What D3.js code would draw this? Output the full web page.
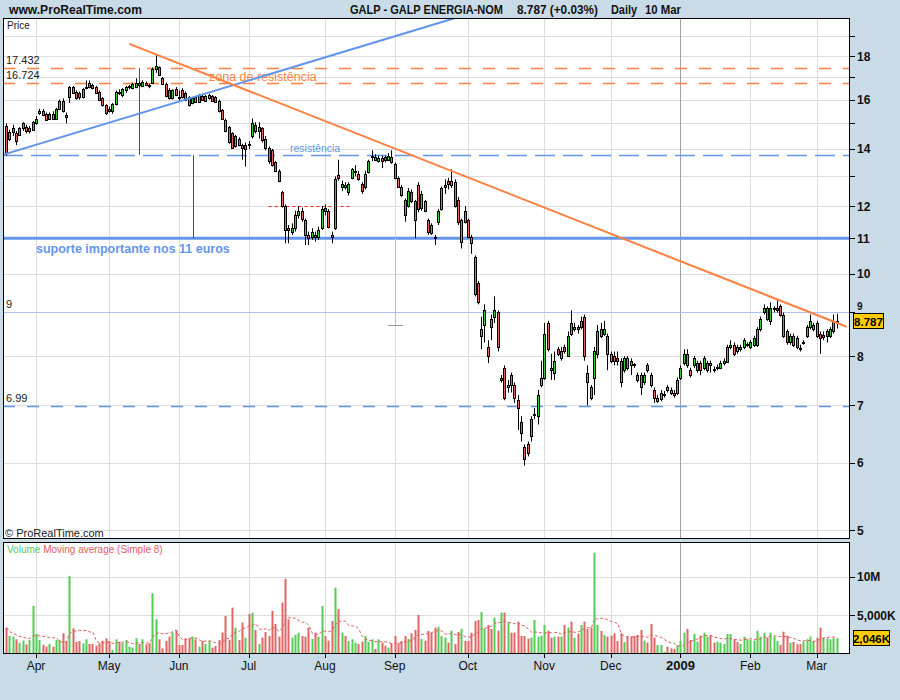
<!DOCTYPE html>
<html><head><meta charset="utf-8">
<script src="https://cdn.jsdelivr.net/npm/d3@7"></script>
<style>
body{margin:0;background:#c9dbe6;}
svg{display:block;font-family:"Liberation Sans",Arial,sans-serif;}
</style></head><body>
<svg id="chart" width="900" height="700"></svg>
<script>
// ---- DATA ----
const opens=[14.9,14.4,14.65,14.6,14.55,14.8,14.85,14.7,14.75,15.0,
15.45,15.5,15.4,15.2,15.4,15.2,15.6,15.95,15.35,16.1,
16.55,16.35,16.3,16.1,16.5,16.75,16.65,16.55,16.35,16.05,
15.75,15.6,15.5,15.8,16.35,16.2,16.4,16.55,16.5,16.55,
16.75,16.6,16.75,16.65,16.75,17.4,17.45,16.95,16.7,16.4,
16.05,16.45,16.1,16.4,16.3,16.1,15.85,16.1,15.9,16.15,
15.95,16.05,16.15,16.1,15.95,15.55,15.15,14.85,14.6,14.1,
14.4,14.15,14.0,14.2,14.5,14.95,14.7,14.8,14.4,14.05,
13.95,13.5,13.2,12.45,12.0,11.3,11.2,11.3,11.7,11.85,
11.55,11.1,11.05,11.1,11.05,11.3,11.95,11.85,11.1,11.3,
13.05,12.65,12.7,12.45,12.95,13.15,13.1,12.75,12.65,13.15,
13.7,13.7,13.55,13.65,13.7,13.6,13.7,13.45,12.95,12.65,
12.2,12.0,12.45,12.15,12.7,11.95,12.15,11.55,11.4,11.05,
11.5,11.9,12.65,12.85,12.7,12.8,12.2,10.9,11.85,11.55,
11.05,10.45,9.75,8.45,8.7,8.2,8.85,8.9,9.0,7.5,
7.75,7.35,7.6,7.4,7.1,6.7,6.25,6.3,6.45,6.85,
6.8,7.4,7.55,8.75,7.75,7.65,8.15,7.95,8.2,8.0,
8.75,8.6,8.65,8.65,8.9,7.65,7.35,7.55,8.05,8.6,
8.5,8.45,8.05,8.0,7.95,7.9,7.7,7.95,7.9,7.82,
7.6,7.6,7.45,7.8,7.6,7.3,7.08,7.12,7.2,7.35,
7.3,7.25,7.25,7.55,7.85,8.05,7.7,7.8,7.7,7.85,
7.75,7.7,7.85,7.73,7.76,7.75,7.85,7.88,8.2,8.25,
8.2,8.15,8.2,8.25,8.2,8.25,8.25,8.6,9.0,9.1,
8.8,9.08,9.05,9.15,8.95,8.55,8.3,8.45,8.4,8.17,
8.3,8.45,8.65,8.6,8.75,8.5,8.42,8.45,8.45,8.55,
8.78];
const highs=[15.0,14.75,14.95,14.7,14.85,15.05,14.95,14.9,15.1,15.3,
15.6,15.6,15.45,15.45,15.5,15.65,16.0,16.05,15.45,16.6,
16.6,16.4,16.35,16.5,16.85,16.85,16.7,16.6,16.4,16.1,
15.8,15.7,15.85,16.4,16.45,16.5,16.6,16.65,16.75,16.95,
16.8,16.85,16.8,16.7,17.45,18.05,17.5,17.0,16.75,16.5,
16.45,16.55,16.4,16.5,16.35,16.15,16.1,16.15,16.25,16.25,
16.2,16.25,16.2,16.15,16.0,15.6,15.2,14.9,14.65,14.55,
14.45,14.2,14.25,14.3,15.2,15.05,15.05,14.85,14.5,14.1,
14.0,13.55,13.25,12.5,12.05,11.4,11.45,11.85,12.0,11.95,
11.6,11.2,11.3,11.2,11.35,12.0,12.05,11.9,11.2,13.0,
13.6,12.85,12.8,12.8,13.3,13.4,13.2,12.8,13.2,13.6,
13.95,13.8,13.75,13.75,13.75,13.85,13.95,13.5,13.0,12.7,
12.25,12.6,12.55,12.2,12.8,12.5,12.2,11.6,11.45,11.1,
11.9,12.65,12.9,12.95,13.25,12.9,12.3,11.6,12.0,11.6,
11.1,10.5,9.8,8.9,9.2,8.35,8.95,9.4,9.05,7.6,
7.8,7.5,7.65,7.45,7.2,6.8,6.3,6.35,6.8,6.95,
7.3,7.9,8.75,8.8,8.05,8.1,8.2,8.2,8.25,8.55,
9.05,8.75,8.7,8.9,8.95,7.8,7.4,8.2,8.7,8.75,
8.8,8.5,8.1,8.1,8.1,7.95,8.0,8.0,7.95,7.85,
7.65,7.65,7.65,7.85,7.65,7.35,7.2,7.3,7.28,7.4,
7.35,7.3,7.55,7.8,8.15,8.15,7.75,8.0,7.9,7.9,
8.0,7.9,7.9,7.78,7.82,7.9,7.95,8.25,8.35,8.3,
8.25,8.25,8.4,8.3,8.35,8.45,8.65,8.9,9.2,9.15,
9.25,9.15,9.3,9.2,9.0,8.6,8.5,8.5,8.45,8.25,
8.35,8.7,8.95,8.75,8.8,8.55,8.55,8.6,8.65,8.95,
8.97];
const lows=[13.75,14.3,14.5,14.15,14.5,14.7,14.6,14.6,14.7,14.95,
15.35,15.3,15.1,15.15,15.15,15.15,15.55,15.45,15.0,15.85,
16.25,16.0,16.0,16.05,16.45,16.5,16.45,16.25,15.95,15.7,
15.35,15.45,15.4,15.75,16.2,16.1,16.3,16.45,16.45,16.5,
16.55,16.55,16.6,16.5,16.7,17.2,17.05,16.65,16.1,16.0,
16.0,16.15,15.9,16.05,15.95,15.7,15.8,15.85,15.85,15.95,
15.9,16.0,15.9,15.85,15.45,15.15,14.65,14.2,14.0,14.05,
14.1,13.6,13.35,14.0,14.4,14.6,14.4,14.25,13.95,13.45,
13.35,13.15,12.8,11.95,10.85,10.85,11.1,11.2,11.6,11.5,
10.8,10.8,10.95,10.9,10.95,11.25,11.7,11.3,10.85,11.25,
12.85,12.5,12.55,12.35,12.9,13.0,12.85,12.4,12.55,13.1,
13.55,13.55,13.5,13.3,13.5,13.55,13.45,12.9,12.6,12.3,
11.5,11.95,12.1,11.0,11.8,11.85,11.8,11.1,11.1,10.8,
11.4,11.85,12.4,12.55,12.6,11.95,11.4,10.7,11.45,11.0,
10.55,9.4,9.2,8.15,8.3,7.85,8.35,8.75,8.1,7.45,
7.1,7.25,7.25,7.05,6.55,6.35,5.95,6.1,6.35,6.75,
6.65,7.35,7.5,8.1,7.5,7.5,8.0,7.9,8.05,7.98,
8.45,8.55,8.5,8.6,7.9,7.0,7.1,7.2,7.95,8.4,
8.45,7.7,7.85,7.8,7.8,7.35,7.65,7.7,7.6,7.75,
7.45,7.2,7.4,7.65,7.35,7.05,7.05,7.08,7.15,7.25,
7.2,7.15,7.2,7.5,7.8,7.75,7.55,7.75,7.65,7.6,
7.7,7.65,7.65,7.65,7.7,7.72,7.8,7.85,8.15,8.0,
8.05,8.1,8.15,8.2,8.15,8.2,8.2,8.55,8.95,8.8,
8.7,9.0,9.0,8.9,8.4,8.25,8.25,8.2,8.15,8.1,
8.25,8.4,8.6,8.55,8.4,8.05,8.35,8.3,8.4,8.5,
8.62];
const closes=[13.85,14.65,14.8,14.3,14.8,15.0,14.7,14.8,15.05,15.2,
15.5,15.35,15.15,15.4,15.2,15.6,15.95,15.5,15.25,16.55,
16.3,16.05,16.1,16.45,16.55,16.55,16.5,16.3,16.0,15.75,
15.45,15.5,15.8,16.35,16.3,16.45,16.55,16.6,16.7,16.75,
16.65,16.8,16.65,16.6,17.4,17.5,17.1,16.7,16.15,16.05,
16.4,16.2,16.05,16.1,16.0,15.75,16.05,15.9,16.2,16.0,
16.15,16.2,15.95,15.9,15.5,15.2,14.7,14.25,14.05,14.5,
14.15,14.05,14.15,14.15,15.0,14.7,14.85,14.35,14.05,13.55,
13.4,13.2,12.85,12.0,11.25,11.25,11.3,11.7,11.85,11.6,
11.1,11.0,11.2,11.05,11.25,11.9,11.85,11.35,11.05,12.9,
12.95,12.75,12.65,12.75,13.25,13.2,12.9,12.5,13.1,13.55,
13.75,13.6,13.65,13.55,13.6,13.72,13.5,12.95,12.65,12.35,
11.7,12.5,12.15,11.55,11.9,12.4,11.85,11.2,11.15,11.0,
11.85,12.6,12.7,12.75,12.85,12.0,11.5,11.55,11.5,11.05,
10.85,9.45,9.25,8.6,9.05,8.0,8.65,9.05,8.2,7.55,
7.15,7.4,7.4,7.15,6.95,6.5,6.05,6.15,6.75,6.85,
7.2,7.55,8.5,8.15,7.7,7.9,8.05,8.1,8.1,8.45,
8.5,8.65,8.6,8.8,8.0,7.45,7.15,8.1,8.55,8.45,
8.6,8.05,7.9,7.9,7.9,7.45,7.95,7.75,7.8,7.8,
7.5,7.35,7.6,7.7,7.4,7.15,7.15,7.25,7.22,7.3,
7.25,7.2,7.5,7.75,8.05,7.8,7.6,7.95,7.85,7.7,
7.95,7.85,7.8,7.72,7.77,7.85,7.9,8.2,8.25,8.05,
8.1,8.2,8.35,8.26,8.3,8.4,8.6,8.85,9.1,8.85,
9.1,9.1,9.1,8.95,8.45,8.3,8.45,8.25,8.2,8.15,
8.32,8.65,8.8,8.7,8.45,8.4,8.48,8.55,8.6,8.784,
8.787];
// volume in millions of shares
const volumes=[3.41,2.33,2.25,1.9,1.47,1.73,1.25,1.81,6.22,2.59,
1.81,1.17,0.95,1.3,0.95,1.81,1.81,2.68,1.68,10.1,
3.32,1.55,1.68,1.38,1.9,1.3,1.3,1.08,1.38,1.68,
2.03,1.68,0.52,1.9,1.6,1.38,1.81,0.95,0.82,2.03,
1.3,1.9,1.25,1.38,7.86,4.49,1.9,0.73,1.68,2.25,
2.76,3.11,1.17,1.17,2.03,2.03,2.25,1.9,0.95,1.68,
1.3,1.68,0.82,1.04,1.81,2.76,4.92,1.81,6.0,3.41,
1.81,4.06,2.12,5.18,5.35,3.11,1.3,2.12,2.85,2.33,
5.57,3.89,2.25,6.65,9.72,4.49,2.12,2.46,2.76,2.33,
2.25,3.41,1.94,2.76,2.25,6.22,2.33,1.73,4.27,8.59,
5.83,2.76,2.33,1.68,1.9,1.47,1.3,1.6,2.33,1.6,
1.9,0.65,1.9,1.47,1.08,0.82,1.38,2.33,1.38,1.68,
2.33,1.94,2.68,3.11,5.05,1.94,1.73,2.98,2.76,3.41,
3.54,2.33,2.12,1.47,3.02,1.3,2.85,3.24,1.68,1.68,
2.76,4.27,4.4,5.44,3.32,3.76,3.24,4.7,3.02,5.35,
5.35,4.1,2.76,2.76,4.19,2.33,2.33,1.99,2.12,4.4,
2.25,2.37,3.76,3.02,2.12,2.25,2.25,2.25,3.76,3.41,
4.19,2.12,2.63,3.76,4.19,3.24,3.41,13.1,3.76,2.98,
2.46,2.25,2.37,2.68,1.68,2.68,1.55,2.25,2.25,2.33,
2.46,3.11,1.73,1.47,3.89,2.12,1.17,1.17,0.3,0.95,
0.73,0.65,1.17,1.68,2.76,3.24,1.81,2.59,1.6,2.37,
2.76,2.25,2.46,1.47,1.6,1.47,1.3,2.59,2.59,1.9,
1.55,1.3,2.25,1.9,1.81,1.73,2.98,2.25,2.76,2.12,
2.76,2.25,1.68,1.17,2.89,2.37,1.47,1.55,1.25,1.3,
1.6,1.9,2.25,1.68,2.12,3.41,2.12,2.03,1.9,2.05,
2.046];
const monthLabels=["Apr","May","Jun","Jul","Aug","Sep","Oct","Nov","Dec","2009","Feb","Mar"];
const monthStarts=[9,31,52,73,96,117,139,162,182,203,224,244];
const priceLabels=[18,16,14,12,11,10,9,8,7,6,5];
const priceMinor=[19,17,15,13];
const priceGrid=[5,6,7,8,9,10,11,12,13,14,15,16,17,18,19];
const volTicks=[5,10];
const volTickLabels=["5,000K","10M"];
const resistZone=[17.432,16.724];
const resistLevel=13.78, supportLevel=11, lowLevel=6.99, nineLevel=9, redLevel=12;
const blueTrend=[[-1,13.78],[135.2,19.95]];
const orangeTrend=[[37.1,18.6],[253,8.66]];
const measureLines=[[40,17.432,13.78],[56.3,13.78,11]];
const lastPrice=8.787, lastVol=2.046;

// ---- LAYOUT ----
const svg=d3.select('#chart');
const W=900,H=700,L=3,R=850,PT=18,PB=539,VT=542,VB=654;
const x=d3.scaleLinear().domain([9,244]).range([36,816.7]);
const y=d3.scaleLog().domain([5,18]).range([530,56]);
const yv=d3.scaleLinear().domain([0,10]).range([VB,576.7]);
const n=closes.length, idx=d3.range(n);
const GREEN='#33cc33', RED='#e46464', BLUE='#6495ed', ORANGE='#ff7f3f';
const px=v=>Math.round(v)+0.5;

svg.append('rect').attr('width',W).attr('height',H).attr('fill','#c9dbe6');
const defs=svg.append('defs');
defs.append('clipPath').attr('id','cp').append('rect').attr('x',L).attr('y',PT).attr('width',R-L).attr('height',PB-PT);
defs.append('clipPath').attr('id','cv').append('rect').attr('x',L).attr('y',VT).attr('width',R-L).attr('height',VB-VT);

svg.append('rect').attr('x',L).attr('y',PT).attr('width',R-L).attr('height',PB-PT).attr('fill','#fff');
svg.append('rect').attr('x',L).attr('y',VT).attr('width',R-L).attr('height',VB-VT).attr('fill','#fff');

// gridlines
const gp=svg.append('g').attr('clip-path','url(#cp)');
gp.selectAll('line.h').data(priceGrid).join('line')
 .attr('x1',L).attr('x2',R).attr('y1',d=>px(y(d))).attr('y2',d=>px(y(d))).attr('stroke','#dcdcdc');
const gv=svg.append('g').attr('clip-path','url(#cv)');
gv.selectAll('line').data(volTicks).join('line')
 .attr('x1',L).attr('x2',R).attr('y1',d=>px(yv(d))).attr('y2',d=>px(yv(d))).attr('stroke','#dcdcdc');
[[PT,PB],[VT,VB]].forEach(([a,b])=>{
 svg.append('g').selectAll('line').data(monthStarts).join('line')
  .attr('x1',d=>px(x(d))).attr('x2',d=>px(x(d))).attr('y1',a).attr('y2',b)
  .attr('stroke',(d,i)=>monthLabels[i]==='2009'?'#a0a0a0':'#dcdcdc');
});

// annotations (behind candles)
const an=svg.append('g').attr('clip-path','url(#cp)');
an.append('text').attr('x',209).attr('y',81).attr('fill',ORANGE).attr('font-size',12.5).text('zona de resistência');
an.selectAll('line.rz').data(resistZone).join('line')
 .attr('x1',L).attr('x2',R).attr('y1',d=>px(y(d))).attr('y2',d=>px(y(d)))
 .attr('stroke',ORANGE).attr('stroke-width',1.3).attr('stroke-dasharray','12,12');
an.append('line').attr('x1',L).attr('x2',R).attr('y1',px(y(resistLevel))).attr('y2',px(y(resistLevel)))
 .attr('stroke',BLUE).attr('stroke-width',1.3).attr('stroke-dasharray','20,8');
an.append('line').attr('x1',L).attr('x2',R).attr('y1',px(y(nineLevel))).attr('y2',px(y(nineLevel)))
 .attr('stroke','#aec2f0');
an.append('line').attr('x1',L).attr('x2',R).attr('y1',px(y(lowLevel))).attr('y2',px(y(lowLevel)))
 .attr('stroke',BLUE).attr('stroke-width',1.3).attr('stroke-dasharray','12,12');
an.append('line').attr('x1',L).attr('x2',R).attr('y1',y(supportLevel)).attr('y2',y(supportLevel))
 .attr('stroke',BLUE).attr('stroke-width',3);
an.append('line').attr('x1',x(79)).attr('x2',x(103.5)).attr('y1',px(y(redLevel))).attr('y2',px(y(redLevel)))
 .attr('stroke','#ff2020').attr('stroke-dasharray','3,3');
an.selectAll('line.ml').data(measureLines).join('line')
 .attr('x1',d=>px(x(d[0]))).attr('x2',d=>px(x(d[0]))).attr('y1',d=>y(d[1])).attr('y2',d=>y(d[2]))
 .attr('stroke','#3347c8');
an.append('line').attr('x1',px(x(117.1))).attr('x2',px(x(117.1))).attr('y1',y(supportLevel)).attr('y2',y(8.7)).attr('stroke','#aec2f0');
an.append('line').attr('x1',x(115)).attr('x2',x(119.5)).attr('y1',px(y(8.7))).attr('y2',px(y(8.7))).attr('stroke','#999');
an.append('text').attr('x',290).attr('y',152).attr('fill',BLUE).attr('font-size',10.5).text('resistência');
an.append('text').attr('x',36).attr('y',253).attr('fill',BLUE).attr('font-size',12.5).attr('font-weight','bold').text('suporte importante nos 11 euros');
const leftLab=[[17.432,'17.432'],[16.724,'16.724'],[9,'9'],[6.99,'6.99']];
an.selectAll('text.ll').data(leftLab).join('text').attr('x',6).attr('y',d=>y(d[0])-4)
 .attr('font-size',11).attr('fill','#222').text(d=>d[1]);
an.append('text').attr('x',7).attr('y',29).attr('font-size',10).attr('fill','#222').text('Price');
an.append('text').attr('x',5).attr('y',537).attr('font-size',11).attr('fill','#222').text('© ProRealTime.com');

// candles
const cg=svg.append('g').attr('clip-path','url(#cp)');
cg.selectAll('line.w').data(idx).join('line')
 .attr('x1',i=>Math.round(x(i))+0.5).attr('x2',i=>Math.round(x(i))+0.5)
 .attr('y1',i=>y(highs[i])).attr('y2',i=>y(lows[i])).attr('stroke','#000');
cg.selectAll('rect.b').data(idx).join('rect')
 .attr('x',i=>Math.round(x(i))-0.5).attr('width',2)
 .attr('y',i=>Math.round(y(Math.max(opens[i],closes[i])))+0.5)
 .attr('height',i=>Math.max(1,Math.round(y(Math.min(opens[i],closes[i])))-Math.round(y(Math.max(opens[i],closes[i])))))
 .attr('fill',i=>closes[i]>=opens[i]?GREEN:RED).attr('stroke','#000');

// trend lines
[[blueTrend,BLUE],[orangeTrend,ORANGE]].forEach(([t,c])=>{
 cg.append('line').attr('x1',x(t[0][0])).attr('y1',y(t[0][1])).attr('x2',x(t[1][0])).attr('y2',y(t[1][1]))
  .attr('stroke',c).attr('stroke-width',2);
});

// volume
const vg=svg.append('g').attr('clip-path','url(#cv)');
vg.selectAll('rect').data(idx).join('rect')
 .attr('x',i=>Math.round(x(i))-0.5).attr('width',2)
 .attr('y',i=>yv(volumes[i])).attr('height',i=>VB-yv(volumes[i]))
 .attr('fill',i=>closes[i]>=opens[i]?'#55cc55':'#e06666');
const ma=idx.map(i=>d3.mean(volumes.slice(Math.max(0,i-7),i+1)));
vg.append('path').datum(idx).attr('fill','none').attr('stroke','#e06060').attr('stroke-width',1)
 .attr('stroke-dasharray','3,2')
 .attr('d',d3.line().x(i=>x(i)+0.5).y(i=>yv(ma[i])));
const vt=svg.append('text').attr('x',7).attr('y',553).attr('font-size',10);
vt.append('tspan').attr('fill','#55cc55').text('Volume ');
vt.append('tspan').attr('fill','#e06060').text('Moving average (Simple 8)');

// borders
svg.append('rect').attr('x',L+0.5).attr('y',PT+0.5).attr('width',R-L-1).attr('height',PB-PT-1).attr('fill','none').attr('stroke','#000');
svg.append('rect').attr('x',L+0.5).attr('y',VT+0.5).attr('width',R-L-1).attr('height',VB-VT-1).attr('fill','none').attr('stroke','#000');

// right axis
const ra=svg.append('g');
ra.selectAll('line.t').data(priceLabels.concat(priceMinor)).join('line')
 .attr('x1',R).attr('x2',R+5).attr('y1',d=>px(y(d))).attr('y2',d=>px(y(d))).attr('stroke','#000');
ra.selectAll('text.t').data(priceLabels).join('text')
 .attr('x',R+7).attr('y',d=>d===nineLevel?y(d)-2.5:y(d)+4.5)
 .attr('font-size',d=>d===nineLevel?10:12).attr('font-weight','bold').attr('fill','#111').text(d=>d);
ra.selectAll('line.v').data(volTicks).join('line')
 .attr('x1',R).attr('x2',R+5).attr('y1',d=>px(yv(d))).attr('y2',d=>px(yv(d))).attr('stroke','#000');
ra.selectAll('text.v').data(volTicks).join('text')
 .attr('x',R+7).attr('y',d=>yv(d)+4.5).attr('font-size',12).attr('font-weight','bold').attr('fill','#111')
 .text((d,i)=>volTickLabels[i]);
// value boxes
const pb=y(lastPrice);
ra.append('rect').attr('x',853.5).attr('y',Math.round(pb)-7.5).attr('width',30).attr('height',15).attr('fill','#ffcc00').attr('stroke','#000');
ra.append('text').attr('x',868.5).attr('y',Math.round(pb)+4.5).attr('text-anchor','middle').attr('font-size',11.5).attr('font-weight','bold').text(lastPrice.toFixed(3));
const vb=yv(lastVol);
ra.append('rect').attr('x',853.5).attr('y',Math.round(vb)-7.5).attr('width',36).attr('height',15).attr('fill','#ffcc00').attr('stroke','#000');
ra.append('text').attr('x',871.5).attr('y',Math.round(vb)+4.5).attr('text-anchor','middle').attr('font-size',11.5).attr('font-weight','bold').text('2,046K');

// bottom axis
const ba=svg.append('g');
ba.selectAll('line').data(monthStarts).join('line')
 .attr('x1',d=>px(x(d))).attr('x2',d=>px(x(d))).attr('y1',VB).attr('y2',VB+4).attr('stroke','#000');
ba.selectAll('text').data(monthStarts).join('text')
 .attr('x',d=>x(d)).attr('y',670).attr('text-anchor','middle')
 .attr('font-size',(d,i)=>monthLabels[i]==='2009'?13:12)
 .attr('font-weight',(d,i)=>monthLabels[i]==='2009'?'bold':'normal')
 .attr('fill','#111').text((d,i)=>monthLabels[i]);

// title
const tt=svg.append('g').attr('font-weight','bold').attr('font-size',12.5).attr('fill','#111');
const titleParts=[[9,133,'www.ProRealTime.com'],[350,153,'GALP - GALP ENERGIA-NOM'],[517,81,'8.787 (+0.03%)'],[611,26,'Daily'],[645,36,'10 Mar']];
tt.selectAll('text').data(titleParts).join('text').attr('x',d=>d[0]).attr('y',14)
 .attr('textLength',d=>d[1]).attr('lengthAdjust','spacingAndGlyphs').text(d=>d[2]);
</script>
</body></html>
